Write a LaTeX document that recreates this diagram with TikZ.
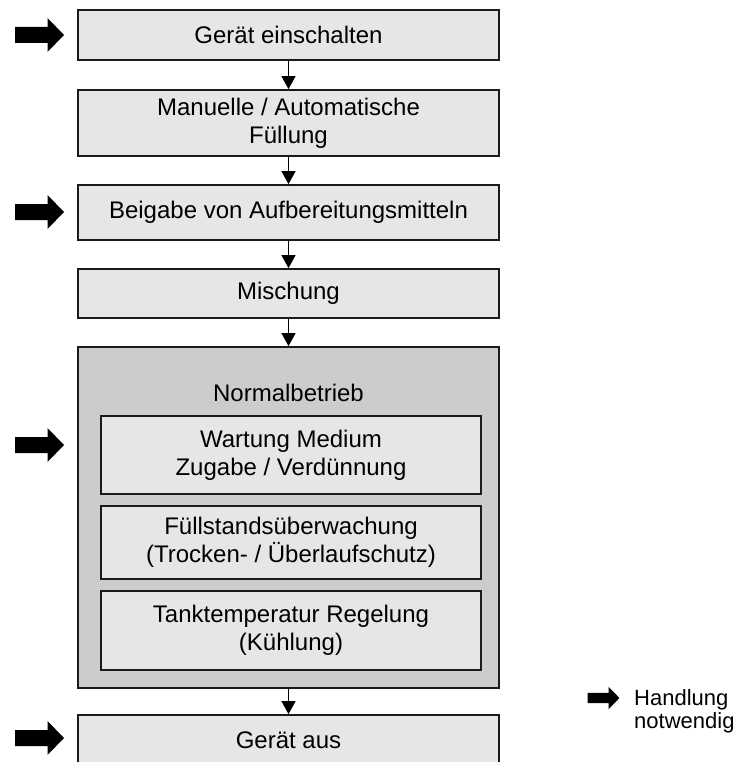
\documentclass[tikz,border=0pt]{standalone}
\usepackage{fontspec}
\setmainfont{Liberation Sans}
\usetikzlibrary{arrows.meta}
\definecolor{boxfill}{HTML}{E6E6E6}
\definecolor{bigfill}{HTML}{CCCCCC}
\definecolor{edge}{HTML}{1A1A1A}
\begin{document}
\begin{tikzpicture}[x=1pt,y=-1pt,
  stepbox/.style={draw=edge, line width=1.8pt, fill=boxfill, minimum width=421pt, inner sep=0pt, align=center, font=\fontsize{24}{27.6}\selectfont},
  innerbox/.style={draw=edge, line width=1.8pt, fill=boxfill, minimum width=380pt, inner sep=0pt, align=center, font=\fontsize{24}{27.6}\selectfont},
  bigbox/.style={draw=edge, line width=1.8pt, fill=bigfill, minimum width=421pt, minimum height=341pt, inner sep=0pt},
  conn/.style={line width=1.4pt, -{Triangle[length=13pt,width=14pt]}},
  fatarrow/.pic={\fill[black] (-24.5,-8) -- (8,-8) -- (8,-17) -- (24.5,0) -- (8,17) -- (8,8) -- (-24.5,8) -- cycle;}
]
\useasboundingbox (0,0) rectangle (750,762);
\fill[white] (0,0) rectangle (750,762);

\node[stepbox, minimum height=50pt] (b1) at (288.5,35) {Gerät einschalten};
\node[stepbox, minimum height=66pt] (b2) at (288.5,123) {Manuelle / Automatische\\Füllung};
\node[stepbox, minimum height=55pt] (b3) at (288.5,212.5) {Beigabe von Aufbereitungsmitteln};
\node[stepbox, minimum height=49pt] (b4) at (288.5,293.5) {Mischung};
\node[bigbox] (nb) at (288.5,517.5) {};
\node[font=\fontsize{24}{27.6}\selectfont] (nbt) at (288.5,393) {Normalbetrieb};
\node[innerbox, minimum height=78pt] (i1) at (291,455) {Wartung Medium\\Zugabe / Verdünnung};
\node[innerbox, minimum height=73pt] (i2) at (291,542.5) {Füllstandsüberwachung\\(Trocken- / Überlaufschutz)};
\node[innerbox, minimum height=79pt] (i3) at (291,630.5) {Tanktemperatur Regelung\\(Kühlung)};
\node[stepbox, minimum height=50pt] (b5) at (288.5,740) {Gerät aus};

\draw[conn] (b1) -- (b2);
\draw[conn] (b2) -- (b3);
\draw[conn] (b3) -- (b4);
\draw[conn] (b4) -- (nb);
\draw[conn] (nb) -- (b5);

\pic at (39.5,35) {fatarrow};
\pic at (39.5,212) {fatarrow};
\pic at (39.5,445) {fatarrow};
\pic at (39.5,738) {fatarrow};

\pic[scale=0.65] at (603.5,698) {fatarrow};
\node[anchor=north west, align=left, inner sep=0pt, font=\fontsize{22}{23}\selectfont] (leg) at (634,689) {Handlung\\notwendig};
\end{tikzpicture}
\end{document}
